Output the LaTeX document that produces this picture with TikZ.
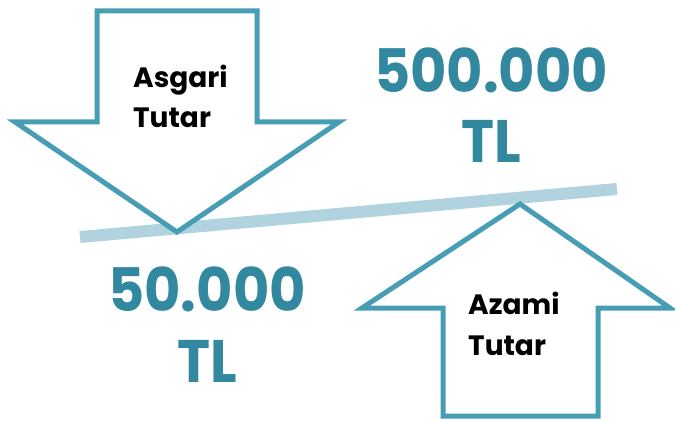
\documentclass[tikz,border=0pt]{standalone}
\usepackage{fontspec}
\setmainfont{Poppins}
\definecolor{arrowc}{HTML}{479DB4}
\definecolor{numc}{HTML}{31889F}
\definecolor{beamc}{HTML}{B0D3DF}
\tikzset{
  arrowshape/.style={draw=arrowc, line width=5pt, fill=white, line join=miter},
  beam/.style={draw=beamc, line width=12pt},
  lbl/.style={anchor=base west, inner sep=0pt, font=\fontsize{28}{28}\selectfont\bfseries, text=black},
  num/.style={anchor=base, inner sep=0pt, xscale=0.93, font=\fontsize{60}{60}\selectfont\bfseries, text=numc}
}
\begin{document}
\begin{tikzpicture}[x=1pt,y=-1pt]
\useasboundingbox (0,0) rectangle (675,422);
% beam
\coordinate (bl) at (80,237);
\coordinate (br) at (617,189);
\draw[beam] (bl) -- (br);
% down arrow
\draw[arrowshape] (97,11) -- (257,11) -- (257,122) -- (339,122) -- (177,232) -- (15,122) -- (97,122) -- cycle;
% up arrow
\draw[arrowshape] (520,204) -- (670,308) -- (598,308) -- (598,416) -- (443,416) -- (443,308) -- (362,308) -- cycle;
% labels
\node[lbl] (asg) at (133,88) {Asgari};
\node[lbl] (tut1) at (133,128) {Tutar};
\node[lbl] (azm) at (468,315) {Azami};
\node[lbl] (tut2) at (468,355) {Tutar};
\node[num] (n500) at (491,93) {500.000};
\node[num] (tl1) at (491,163) {TL};
\node[num] (n50) at (207,312) {50.000};
\node[num] (tl2) at (207,382) {TL};
\end{tikzpicture}
\end{document}
